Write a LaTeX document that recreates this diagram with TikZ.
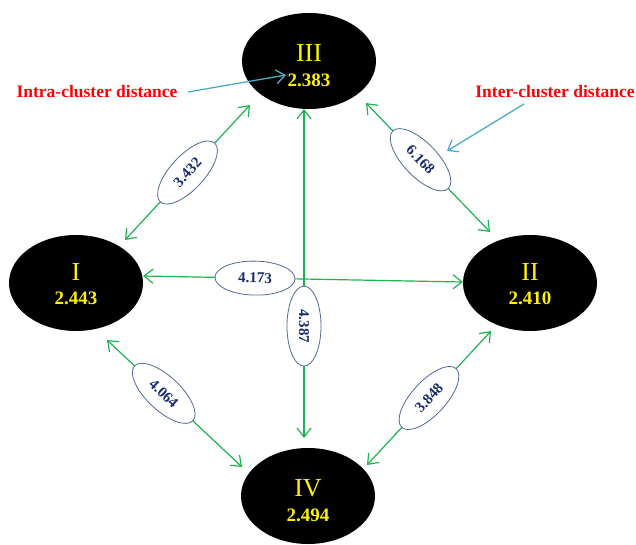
\documentclass[tikz,border=0pt]{standalone}
\usepackage{fontspec}
\setmainfont{Liberation Serif}
\usetikzlibrary{arrows.meta,shapes.geometric}
\definecolor{lgreen}{RGB}{30,178,80}
\definecolor{edgeblue}{RGB}{80,105,145}
\definecolor{navy}{RGB}{25,45,110}
\definecolor{noteblue}{RGB}{75,172,198}
\begin{document}
\begin{tikzpicture}[x=1pt,y=-1pt,
 cluster/.style={ellipse,fill=black,minimum width=134pt,minimum height=96pt,inner sep=0pt},
 numeral/.style={text=yellow,font=\fontsize{26}{26}\selectfont,inner sep=0pt},
 value/.style={text=yellow,font=\fontsize{19}{19}\selectfont\bfseries,inner sep=0pt},
 dist/.style={ellipse,draw=edgeblue,fill=white,line width=0.8pt,minimum width=80pt,minimum height=34pt,inner sep=0pt,font=\fontsize{15}{15}\selectfont\bfseries,text=navy},
 link/.style={draw=lgreen,line width=1.2pt,{Straight Barb[length=9pt,width=14pt]}-{Straight Barb[length=9pt,width=14pt]}},
 note/.style={font=\fontsize{17.5}{17.5}\selectfont\bfseries,text=red,inner sep=0pt},
 pointer/.style={draw=noteblue,line width=1.3pt,-{Straight Barb[length=9pt,width=14pt]}}
]
\useasboundingbox (0,0) rectangle (636,545);

% clusters
\node[cluster] (III) at (309,61) {};
\node[cluster] (I) at (76,283) {};
\node[cluster] (II) at (530,283) {};
\node[cluster] (IV) at (308,496) {};

\node[numeral] (IIIn) at (309,53) {III};
\node[value] (IIIv) at (309,80) {2.383};
\node[numeral] (In) at (76,272) {I};
\node[value] (Iv) at (76,298) {2.443};
\node[numeral] (IIn) at (530,272) {II};
\node[value] (IIv) at (530,298) {2.410};
\node[numeral] (IVn) at (308,488) {IV};
\node[value] (IVv) at (308,515) {2.494};

% connector end points
\coordinate (a1) at (250,105); \coordinate (a2) at (125,240);
\coordinate (b1) at (366,103); \coordinate (b2) at (490,232);
\coordinate (c1) at (143,276); \coordinate (c2) at (463,282);
\coordinate (d1) at (304,109); \coordinate (d2) at (304,438);
\coordinate (e1) at (107,340); \coordinate (e2) at (242,467);
\coordinate (f1) at (367,465); \coordinate (f2) at (491,331);

\draw[link] (c1) -- (c2) node[dist,pos=0.35,sloped] (lc) {4.173};
\draw[link] (d1) -- (d2) node[dist,pos=0.66,rotate=-90] (ld) {4.387};
\draw[link] (a1) -- (a2) node[dist,pos=0.5,sloped] (la) {3.432};
\draw[link] (b1) -- (b2) node[dist,pos=0.44,sloped] (lb) {6.168};
\draw[link] (e1) -- (e2) node[dist,pos=0.42,sloped] (le) {4.064};
\draw[link] (f1) -- (f2) node[dist,pos=0.5,sloped] (lf) {3.848};

% notes
\node[note] (intra) at (97,92) {Intra-cluster distance};
\node[note] (inter) at (555,92) {Inter-cluster distance};
\coordinate (p1) at (188,92); \coordinate (p2) at (286,75);
\coordinate (q1) at (524,104); \coordinate (q2) at (447,151);
\draw[pointer] (p1) -- (p2);
\draw[pointer] (q1) -- (q2);
\end{tikzpicture}
\end{document}
